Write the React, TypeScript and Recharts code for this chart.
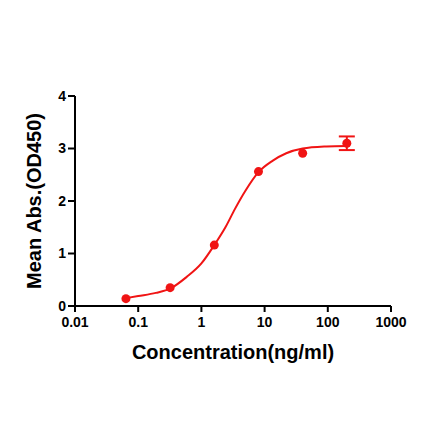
import React from 'react';
import {
  ComposedChart,
  Line,
  Scatter,
  ErrorBar,
  XAxis,
  YAxis,
} from 'recharts';

// measured points (5x dilution series)
const concentrations = [0.064, 0.32, 1.6, 8, 40, 200];
const meanAbs = [0.14, 0.35, 1.16, 2.56, 2.91, 3.1];
const sdAbs = [0, 0, 0, 0, 0, 0.13];

// fitted curve
const curveX = [0.064, 0.1, 0.19, 0.32, 0.58, 1, 1.6, 2.4, 3.4, 5, 8, 13.5, 22, 40, 95, 200];
const curveY = [0.15, 0.19, 0.25, 0.33, 0.55, 0.81, 1.16, 1.5, 1.85, 2.2, 2.55, 2.77, 2.91, 3.0, 3.04, 3.05];

const xTicks = [0.01, 0.1, 1, 10, 100, 1000];
const yTicks = [0, 1, 2, 3, 4];

const RED = '#f01414';
const FONT = 'Liberation Sans, Arial, sans-serif';

const points = concentrations.map((x, i) => ({ x, y: meanAbs[i], err: sdAbs[i] }));
const curve = curveX.map((x, i) => ({ x, y: curveY[i] }));

const App: React.FC = () => {
  return (
    <div style={{ position: 'absolute', left: 0, top: 0, width: 440, height: 441, background: '#fff' }}>
      <ComposedChart
        width={440}
        height={441}
        margin={{ top: 96, right: 49, left: 0, bottom: 75 }}
      >
        <XAxis
          dataKey="x"
          type="number"
          scale="log"
          domain={[0.01, 1000]}
          ticks={xTicks}
          allowDataOverflow
          tickFormatter={(v: number) => String(v)}
          stroke="#000"
          strokeWidth={2}
          tickSize={6}
          tickMargin={5}
          height={60}
          tick={{ fill: '#000', fontSize: 14, fontWeight: 700, fontFamily: FONT }}
          label={{
            value: 'Concentration(ng/ml)',
            position: 'insideBottom',
            offset: 7,
            fill: '#000',
            fontSize: 20,
            fontWeight: 700,
            fontFamily: FONT,
          }}
        />
        <YAxis
          dataKey="y"
          type="number"
          domain={[0, 4]}
          ticks={yTicks}
          stroke="#000"
          strokeWidth={2}
          tickSize={7}
          width={75}
          tick={{ fill: '#000', fontSize: 14, fontWeight: 700, fontFamily: FONT }}
          label={{
            value: 'Mean Abs.(OD450)',
            angle: -90,
            position: 'insideLeft',
            offset: 34,
            style: { textAnchor: 'middle' },
            fill: '#000',
            fontSize: 20,
            fontWeight: 700,
            fontFamily: FONT,
          }}
        />
        <Line
          data={curve}
          dataKey="y"
          type="monotone"
          stroke={RED}
          strokeWidth={2}
          dot={false}
          activeDot={false}
          isAnimationActive={false}
        />
        <Scatter data={points} dataKey="y" fill={RED} isAnimationActive={false} shape={(p: any) => (
          <circle cx={p.cx} cy={p.cy} r={4.5} fill={RED} />
        )}>
          <ErrorBar dataKey="err" direction="y" width={8} stroke={RED} strokeWidth={2} />
        </Scatter>
      </ComposedChart>
    </div>
  );
};

export default App;
